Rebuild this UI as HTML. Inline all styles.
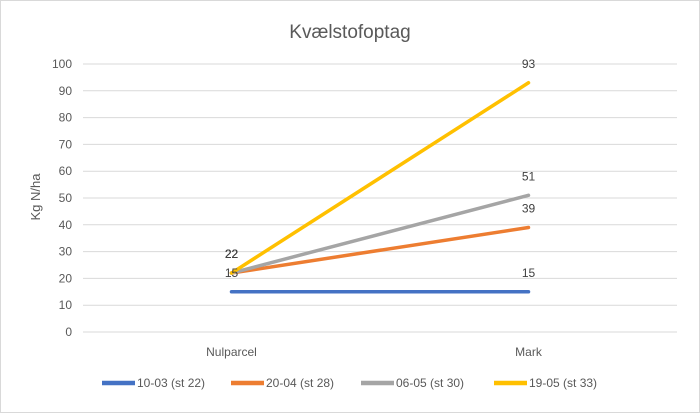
<!DOCTYPE html>
<html><head><meta charset="utf-8"><style>
body{margin:0;background:#fff;font-family:"Liberation Sans",Calibri,sans-serif}
svg text{font-family:"Liberation Sans",sans-serif;fill:#595959}
</style></head><body>
<svg width="700" height="413">
<rect x="0.5" y="0.5" width="699" height="412" fill="#fff" stroke="#d9d9d9"/>
<text x="350" y="38" font-size="19" text-anchor="middle">Kvælstofoptag</text>
<text transform="translate(40,197) rotate(-90)" font-size="13" text-anchor="middle">Kg N/ha</text>
<g id="grid"></g><g id="series"></g><g id="legend"></g>
</svg>
<script>
const categories=["Nulparcel","Mark"];
const seriesNames=["10-03 (st 22)","20-04 (st 28)","06-05 (st 30)","19-05 (st 33)"];
const s1=[15,15];
const s2=[22,39];
const s3=[22,51];
const s4=[22,93];
const yTicks=[0,10,20,30,40,50,60,70,80,90,100];
const colors=["#4472c4","#ed7d31","#a5a5a5","#ffc000"];
const NS="http://www.w3.org/2000/svg";
const L=83,R=677,Y0=332,Y100=64;
const y=v=>Y0-(v/100)*(Y0-Y100);
const x=i=>L+(R-L)/categories.length*(i+0.5);
function mk(t,a,p){const e=document.createElementNS(NS,t);for(const k in a)e.setAttribute(k,a[k]);p.appendChild(e);return e;}
const g=document.getElementById('grid'),sg=document.getElementById('series'),lg=document.getElementById('legend');
yTicks.forEach(v=>{
 const l=mk('line',{x1:L,x2:R,y1:y(v),y2:y(v),stroke:'#d9d9d9','stroke-width':1},g);
 
 
 const t=mk('text',{x:72,y:y(v)+4,'font-size':12,'text-anchor':'end'},g);t.textContent=v;
 
 
});
categories.forEach((c,i)=>{
 const t=mk('text',{x:x(i),y:356,'font-size':12,'text-anchor':'middle'},g);t.textContent=c;
 
 
});
[s1,s2,s3,s4].forEach((s,k)=>{
 const p=mk('polyline',{points:s.map((v,i)=>x(i)+','+y(v)).join(' '),fill:'none',stroke:colors[k],'stroke-width':3.5,'stroke-linecap':'round'},sg);
 
 
});
[s1,s2,s3,s4].forEach((s,k)=>{
 s.forEach((v,i)=>{
  const t=mk('text',{x:x(i),y:y(v)-15,'font-size':12,'text-anchor':'middle',style:'fill:#404040'},sg);t.textContent=v;
  
  
 });
});
const lx=[102,231,361,494];
seriesNames.forEach((n,k)=>{
 const l=mk('line',{x1:lx[k],x2:lx[k]+33,y1:383,y2:383,stroke:colors[k],'stroke-width':4.5},lg);
 
 
 const t=mk('text',{x:lx[k]+35,y:387,'font-size':12},lg);t.textContent=n;
 
 
});
</script>
</body></html>
